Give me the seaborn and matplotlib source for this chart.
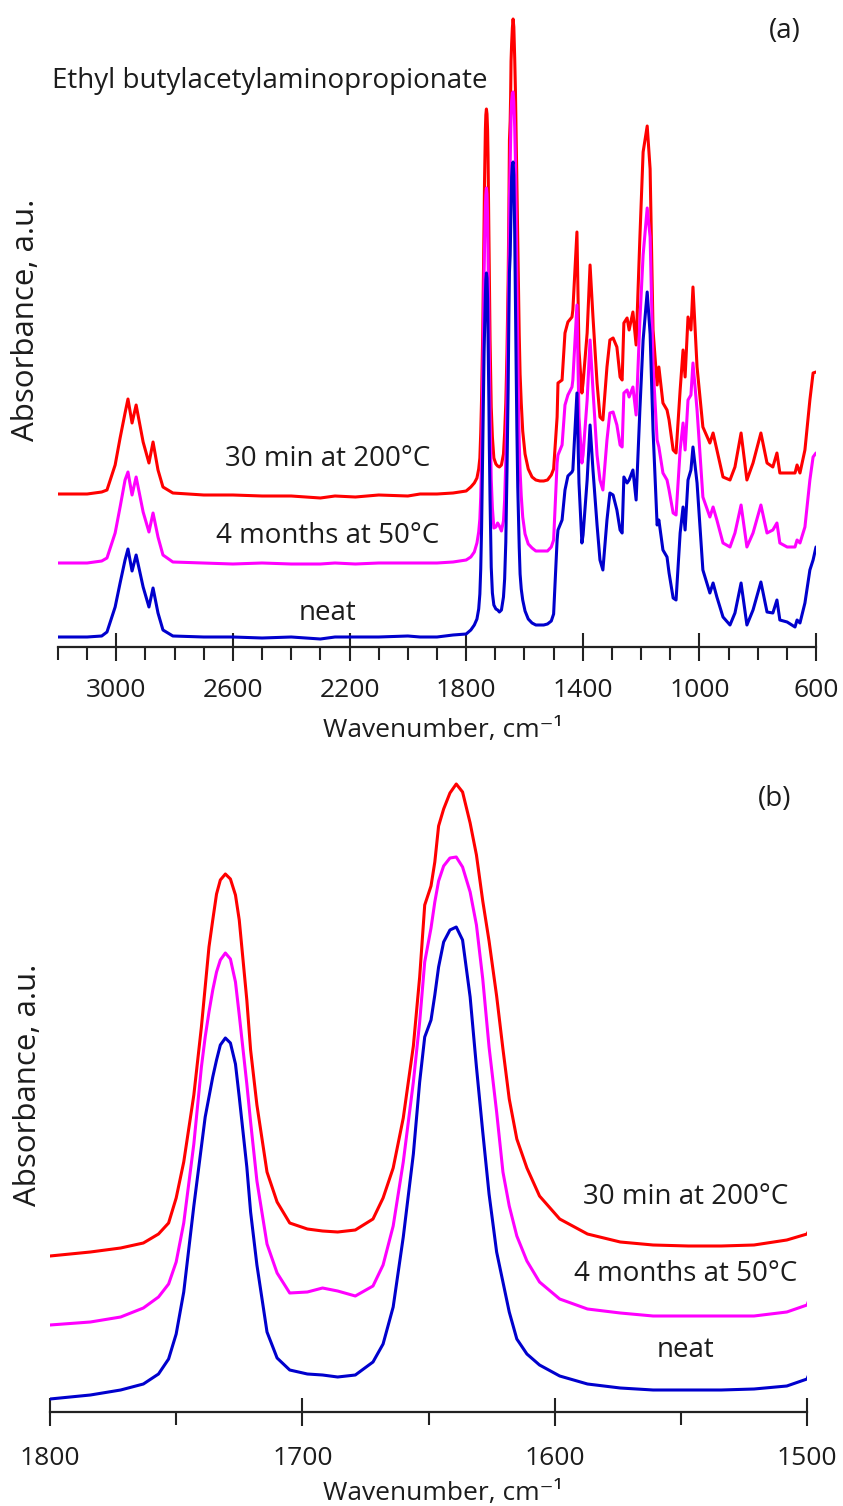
import matplotlib
matplotlib.use("Agg")
import matplotlib.pyplot as plt
from matplotlib.ticker import FixedLocator
import pandas as pd
import seaborn as sns

# ---------------------------------------------------------------------------
# FTIR spectra of ethyl butylacetylaminopropionate (absorbance, a.u., offset)
# ---------------------------------------------------------------------------
wavenumber = [
    3200, 3100, 3050, 3032, 3004, 2987, 2970, 2960, 2946, 2932, 2908, 2888, 2874, 2857,
    2840, 2806, 2700, 2600, 2500, 2400, 2300, 2250, 2180, 2100, 2000, 1958, 1900, 1845,
    1800, 1784, 1772, 1763, 1757, 1753, 1750, 1747, 1743, 1740,
    1738.5, 1737, 1735.5, 1734, 1732.5, 1730.5, 1728.5, 1726.5, 1725, 1723.5,
    1722, 1720.5, 1718, 1714, 1710, 1705, 1698, 1692, 1686, 1679,
    1672, 1668, 1664, 1660, 1656, 1653.5, 1651.5, 1649, 1647.5, 1646,
    1644, 1641.5, 1639, 1636.5, 1633.5, 1631, 1628.5, 1626, 1623, 1620.5,
    1618, 1615, 1611, 1606, 1598, 1587, 1574, 1561, 1547, 1534,
    1521, 1508, 1500,
    1488, 1485, 1471, 1461, 1451, 1437, 1434, 1420, 1413, 1403,
    1399, 1385, 1375, 1365, 1351, 1341, 1331, 1317, 1307, 1296,
    1283, 1272, 1265, 1259, 1248, 1241, 1228, 1217, 1204, 1193,
    1179, 1169, 1159, 1145, 1139, 1125, 1111, 1104, 1090, 1080,
    1066, 1056, 1049, 1039, 1029, 1022, 1008, 988, 964, 953,
    940, 919, 895, 878, 857, 837, 816, 789, 768, 748,
    734, 724, 699, 672, 665, 655, 638, 621, 610, 600,
]

heated_200C = [
    1.53, 1.53, 1.55, 1.57, 1.82, 2.09, 2.34, 2.48, 2.24, 2.42, 2.05, 1.84, 2.05, 1.77,
    1.60, 1.54, 1.52, 1.52, 1.51, 1.51, 1.49, 1.51, 1.50, 1.52, 1.51, 1.53, 1.53, 1.54,
    1.56, 1.60, 1.64, 1.69, 1.78, 1.89, 2.14, 2.50, 3.17, 3.85,
    4.25, 4.65, 4.92, 5.18, 5.32, 5.38, 5.33, 5.17, 4.92, 4.52,
    4.12, 3.62, 3.07, 2.40, 2.10, 1.89, 1.83, 1.81, 1.80, 1.82,
    1.93, 2.14, 2.44, 2.94, 3.66, 4.35, 5.07, 5.26, 5.50, 5.86,
    6.03, 6.19, 6.28, 6.20, 5.89, 5.57, 5.11, 4.71, 4.16, 3.63,
    3.13, 2.73, 2.44, 2.16, 1.93, 1.78, 1.70, 1.67, 1.66, 1.66,
    1.67, 1.72, 1.78,
    2.30, 2.64, 2.67, 3.14, 3.25, 3.30, 3.37, 4.15, 2.97, 2.54,
    2.64, 3.14, 3.82, 3.30, 2.64, 2.30, 2.27, 2.80, 3.07, 3.09,
    3.00, 2.70, 2.67, 3.24, 3.29, 3.17, 3.35, 3.02, 4.10, 4.95,
    5.21, 4.78, 3.17, 2.62, 2.80, 2.44, 2.37, 2.27, 1.97, 1.94,
    2.57, 2.97, 2.70, 3.30, 3.17, 3.60, 2.80, 2.20, 2.04, 2.14,
    1.97, 1.70, 1.67, 1.80, 2.14, 1.67, 1.84, 2.14, 1.84, 1.80,
    1.94, 1.74, 1.74, 1.74, 1.82, 1.74, 1.97, 2.47, 2.74, 2.75,
]

aged_50C = [
    0.84, 0.84, 0.86, 0.89, 1.14, 1.40, 1.67, 1.75, 1.52, 1.70, 1.35, 1.15, 1.34, 1.10,
    0.92, 0.85, 0.84, 0.83, 0.84, 0.83, 0.83, 0.84, 0.83, 0.84, 0.84, 0.84, 0.84, 0.85,
    0.87, 0.90, 0.95, 1.04, 1.15, 1.28, 1.50, 1.89, 2.68, 3.45,
    3.75, 4.00, 4.22, 4.40, 4.52, 4.59, 4.53, 4.30, 3.97, 3.62,
    3.28, 2.90, 2.31, 1.68, 1.39, 1.19, 1.20, 1.24, 1.21, 1.16,
    1.26, 1.47, 1.86, 2.50, 3.30, 3.90, 4.50, 4.84, 5.10, 5.31,
    5.46, 5.54, 5.55, 5.45, 5.20, 4.87, 4.33, 3.65, 3.00, 2.40,
    2.06, 1.76, 1.51, 1.30, 1.13, 1.03, 0.99, 0.96, 0.96, 0.96,
    0.96, 1.00, 1.07,
    1.84, 1.92, 2.02, 2.42, 2.52, 2.60, 2.67, 3.42, 2.30, 1.84,
    1.92, 2.47, 3.07, 2.57, 1.92, 1.67, 1.57, 2.07, 2.34, 2.35,
    2.22, 2.02, 2.00, 2.54, 2.57, 2.50, 2.60, 2.32, 3.27, 3.92,
    4.39, 4.10, 2.82, 2.07, 2.00, 1.74, 1.67, 1.57, 1.34, 1.32,
    1.97, 2.24, 1.97, 2.47, 2.52, 2.84, 2.37, 1.50, 1.30, 1.40,
    1.27, 1.04, 1.00, 1.14, 1.42, 1.00, 1.14, 1.42, 1.14, 1.17,
    1.24, 1.04, 1.00, 1.00, 1.07, 1.04, 1.20, 1.67, 1.90, 1.94,
]

neat = [
    0.10, 0.10, 0.11, 0.15, 0.40, 0.64, 0.87, 0.98, 0.76, 0.92, 0.60, 0.40, 0.59, 0.34,
    0.17, 0.11, 0.10, 0.10, 0.09, 0.10, 0.08, 0.10, 0.10, 0.10, 0.11, 0.10, 0.10, 0.12,
    0.13, 0.17, 0.22, 0.28, 0.38, 0.53, 0.78, 1.20, 2.06, 2.65,
    2.95, 3.15, 3.35, 3.52, 3.67, 3.74, 3.69, 3.48, 3.15, 2.80,
    2.45, 2.00, 1.47, 0.80, 0.54, 0.42, 0.38, 0.37, 0.35, 0.37,
    0.50, 0.68, 1.05, 1.75, 2.58, 3.30, 3.75, 3.92, 4.17, 4.45,
    4.70, 4.82, 4.85, 4.72, 4.15, 3.45, 2.80, 2.18, 1.60, 1.30,
    1.00, 0.73, 0.58, 0.47, 0.36, 0.28, 0.24, 0.22, 0.22, 0.22,
    0.23, 0.26, 0.33,
    1.07, 1.17, 1.27, 1.57, 1.71, 1.75, 1.77, 2.54, 1.64, 1.04,
    1.12, 1.67, 2.22, 1.77, 1.22, 0.87, 0.77, 1.27, 1.54, 1.52,
    1.37, 1.17, 1.14, 1.70, 1.64, 1.67, 1.77, 1.47, 2.38, 3.07,
    3.55, 3.13, 2.17, 1.22, 1.27, 0.97, 0.90, 0.74, 0.49, 0.47,
    1.14, 1.40, 1.17, 1.67, 1.77, 2.00, 1.64, 0.77, 0.54, 0.64,
    0.50, 0.30, 0.22, 0.34, 0.64, 0.22, 0.37, 0.65, 0.35, 0.34,
    0.47, 0.27, 0.25, 0.20, 0.27, 0.24, 0.44, 0.77, 0.87, 1.00,
]

series_names = ["30 min at 200°C", "4 months at 50°C", "neat"]
series_colors = ["#FF0000", "#FF00FF", "#0000CD"]

# x ticks of the two panels
full_major = [3000, 2600, 2200, 1800, 1400, 1000, 600]
full_minor = list(range(3200, 500, -100))
zoom_major = [1800, 1700, 1600, 1500]
zoom_minor = [1750, 1650, 1550]

# ---------------------------------------------------------------------------
frames = []
for name, values in zip(series_names, [heated_200C, aged_50C, neat]):
    frames.append(pd.DataFrame({"wavenumber": wavenumber,
                                "absorbance": values,
                                "sample": name}))
spectra = pd.concat(frames, ignore_index=True)

sns.set_theme(style="white")
plt.rcParams["font.family"] = ["Open Sans", "DejaVu Sans"]
text_color = "#1c1c1c"
axis_color = "#222222"

W, H = 843, 1506
fig = plt.figure(figsize=(W / 100, H / 100), dpi=100)


def fig_xy(x, y):
    return x / W, 1 - y / H


ax_a = fig.add_axes([58 / W, 1 - 647 / H, (816 - 58) / W, (647 - 10) / H])
ax_b = fig.add_axes([50 / W, 1 - 1412 / H, (807 - 50) / W, (1412 - 770) / H])

palette = dict(zip(series_names, series_colors))
for ax in (ax_a, ax_b):
    sns.lineplot(data=spectra, x="wavenumber", y="absorbance", hue="sample",
                 hue_order=series_names, palette=palette, sort=False,
                 estimator=None, linewidth=2.2, legend=False, ax=ax)
    for side in ("left", "top", "right"):
        ax.spines[side].set_visible(False)
    ax.spines["bottom"].set_linewidth(1.6)
    ax.spines["bottom"].set_color(axis_color)
    ax.set_yticks([])
    ax.set_xlabel("")
    ax.set_ylabel("")
    ax.tick_params(axis="x", which="both", bottom=True)
    ax.tick_params(axis="x", which="major", direction="inout", length=20,
                   width=1.5, color=axis_color, labelsize=19, labelcolor=text_color)
    ax.tick_params(axis="x", which="minor", direction="out", length=9,
                   width=1.5, color=axis_color)

ax_a.set_xlim(3200, 600)
ax_a.set_ylim(0, 6.37)
ax_a.xaxis.set_major_locator(FixedLocator(full_major))
ax_a.xaxis.set_minor_locator(FixedLocator(full_minor))
ax_a.set_xticklabels([str(t) for t in full_major])
ax_a.tick_params(axis="x", which="major", pad=12.5)

ax_b.set_xlim(1800, 1500)
ax_b.set_ylim(0, 6.42)
ax_b.xaxis.set_major_locator(FixedLocator(zoom_major))
ax_b.xaxis.set_minor_locator(FixedLocator(zoom_minor))
ax_b.set_xticklabels([str(t) for t in zoom_major])
ax_b.tick_params(axis="x", which="major", pad=14.5)

# sample labels next to each trace
label_a = [(2275, 1.81), (2275, 1.04), (2275, 0.27)]
label_b = [(1548, 2.085), (1548, 1.31), (1548, 0.55)]
for name, (xa, ya), (xb, yb) in zip(series_names, label_a, label_b):
    ax_a.text(xa, ya, name, ha="center", va="baseline", fontsize=20, color=text_color)
    ax_b.text(xb, yb, name, ha="center", va="baseline", fontsize=20, color=text_color)

ax_a.text(3221, 5.59, "Ethyl butylacetylaminopropionate", ha="left",
          va="baseline", fontsize=20, color=text_color)
ax_a.text(706, 6.155, "(a)", ha="center", va="center", fontsize=20, color=text_color)
ax_b.text(1513, 6.13, "(b)", ha="center", va="center", fontsize=20, color=text_color)

# axis titles
for (xl, yl), (xy_, yy_) in [((443, 737), (26, 320)), ((443, 1500), (28, 1085))]:
    fig.text(*fig_xy(xl, yl), "Wavenumber, cm\u207b\u00b9", ha="center",
             va="baseline", fontsize=19, color=text_color)
    fig.text(*fig_xy(xy_, yy_), "Absorbance, a.u.", ha="center", va="center",
             rotation=90, fontsize=22.5, color=text_color)

fig.savefig("out.png", dpi=100, facecolor="white")
